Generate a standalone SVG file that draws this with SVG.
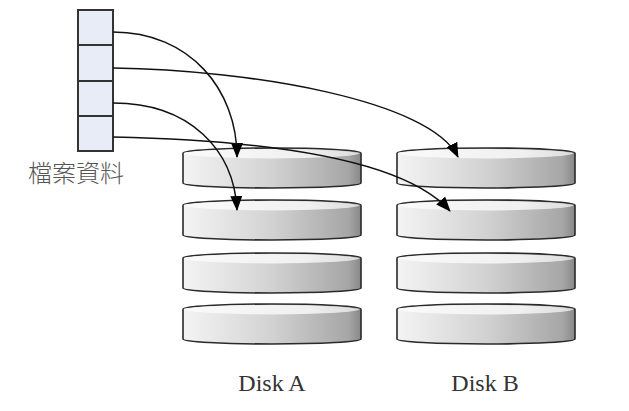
<svg xmlns="http://www.w3.org/2000/svg" xmlns:xlink="http://www.w3.org/1999/xlink" width="629" height="411" viewBox="0 0 629 411">
  <style>
    .cell { fill: #e8ecf6; stroke: #333; stroke-width: 2; }
    .conn { fill: none; stroke: #111; stroke-width: 1.5; marker-end: url(#arrow); }
    .body { fill: url(#sideGrad); stroke: #2a2a2a; stroke-width: 1.6; }
    .topface { fill: url(#topGrad); stroke: none; }
    .lbl { font-family: "Liberation Serif", "Times New Roman", serif; font-size: 24px; fill: #333; text-anchor: middle; }
    .cjk { font-family: "Noto Sans CJK TC", "Noto Sans CJK SC", sans-serif; font-size: 24px; font-weight: 300; fill: #555; text-anchor: middle; }
  </style>
  <defs>
    <linearGradient id="sideGrad" x1="0" y1="0" x2="1" y2="0">
      <stop offset="0" stop-color="#f4f4f4"/>
      <stop offset="0.5" stop-color="#d2d2d2"/>
      <stop offset="0.93" stop-color="#a6a6a6"/>
      <stop offset="1" stop-color="#888"/>
    </linearGradient>
    <linearGradient id="topGrad" x1="0" y1="0" x2="1" y2="0">
      <stop offset="0" stop-color="#fafafa"/>
      <stop offset="0.7" stop-color="#f0f0f0"/>
      <stop offset="1" stop-color="#dcdcdc"/>
    </linearGradient>
    <marker id="arrow" viewBox="0 0 15 12" refX="14" refY="6" markerWidth="15" markerHeight="12" markerUnits="userSpaceOnUse" orient="auto">
      <path d="M0,0 L15,6 L0,12 Z" fill="#000"/>
    </marker>
    <g id="disk">
      <path class="body" d="M0,5 A89,5 0 0 1 178,5 L178,35 A89,5 0 0 1 0,35 Z"/>
      <path class="topface" d="M1.5,5.5 A88,5.5 0 0 0 176.5,5.5 A88,5 0 0 0 1.5,5.5 Z"/>
    </g>
  </defs>

  <g id="fileTable">
    <rect class="cell" x="78" y="10" width="35" height="35"/>
    <rect class="cell" x="78" y="45" width="35" height="36"/>
    <rect class="cell" x="78" y="81" width="35" height="35"/>
    <rect class="cell" x="78" y="116" width="35" height="35"/>
    <text class="cjk" x="76" y="182">檔案資料</text>
  </g>

  <g id="diskA1"><use xlink:href="#disk" x="183" y="148"/></g>
  <g id="diskA2"><use xlink:href="#disk" x="183" y="200"/></g>
  <g id="diskA3"><use xlink:href="#disk" x="183" y="253"/></g>
  <g id="diskA4"><use xlink:href="#disk" x="183" y="304"/></g>
  <g id="diskB1"><use xlink:href="#disk" x="397" y="148"/></g>
  <g id="diskB2"><use xlink:href="#disk" x="397" y="200"/></g>
  <g id="diskB3"><use xlink:href="#disk" x="397" y="253"/></g>
  <g id="diskB4"><use xlink:href="#disk" x="397" y="304"/></g>

  <g id="labelA"><text class="lbl" x="272" y="391">Disk A</text></g>
  <g id="labelB"><text class="lbl" x="485" y="391">Disk B</text></g>

  <g id="connectors">
    <path class="conn" d="M113,32 C190,32 237,90 237,157"/>
    <path class="conn" d="M113,68 C250,70 430,100 458,157"/>
    <path class="conn" d="M113,103 C190,103 234,150 237,210"/>
    <path class="conn" d="M113,137 C250,140 400,155 450,211"/>
  </g>
</svg>
